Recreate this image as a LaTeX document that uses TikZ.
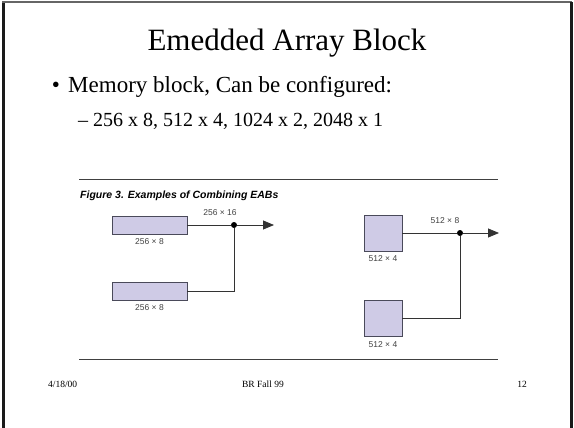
\documentclass[tikz,border=0pt]{standalone}
\usepackage{fontspec}
\setmainfont{Liberation Serif}
\setsansfont{Liberation Sans}
\usepackage{xcolor}
\usepackage{tikz}
\usetikzlibrary{positioning,arrows.meta}
\definecolor{framegray}{HTML}{1A1A1A}
\definecolor{eabfill}{HTML}{CFCBE6}
\definecolor{eabdraw}{HTML}{4A4A5A}
\definecolor{wiregray}{HTML}{333333}

\begin{document}
\begin{tikzpicture}[
x=1pt,
y=-1pt,
node distance=3pt,
txt/.style={inner sep=0pt},
eab/.style={
draw=eabdraw,
fill=eabfill,
line width=0.8pt,
inner sep=0pt
},
widebox/.style={eab, minimum width=75pt, minimum height=18pt},
squarebox/.style={eab, minimum width=38pt, minimum height=36pt},
lbl/.style={
font=\sffamily\fontsize{8.5}{9}\selectfont,
text=black!75,
inner sep=1pt
},
wire/.style={draw=wiregray, line width=0.8pt},
outwire/.style={wire, -{Triangle[length=11pt,width=9pt]}},
joint/.style={circle, fill=black, inner sep=0pt, minimum size=6pt},
rule/.style={draw=black!75, line width=0.9pt}
]

\useasboundingbox (0,0) rectangle (574,428);

\draw[line width=3pt, framegray] (3.5,428) -- (3.5,2);
\draw[line width=1.5pt, black!60] (2,2) -- (572,2);
\draw[line width=2.5pt, framegray] (571.5,2) -- (571.5,428);

\node[txt, anchor=base] (title) at (287,51)
{\fontsize{31}{36}\selectfont Emedded Array Block};

\node[txt, anchor=base] (bullet) at (56,93)
{\fontsize{23}{28}\selectfont •};

\node[txt, anchor=base west] (item) at (68,93)
{\fontsize{23}{28}\selectfont Memory block, Can be configured:};

\node[txt, anchor=base west] (subitem) at (78,127)
{\fontsize{20}{24}\selectfont – 256 x 8, 512 x 4, 1024 x 2, 2048 x 1};

\draw[rule] (79,179) -- (498,179);

\node[txt, anchor=base west,
font=\sffamily\bfseries\itshape\fontsize{10.5}{12}\selectfont] (caption) at (80,199)
{Figure 3. Examples of Combining EABs};

\node[widebox] (eabA) at (149.5,225) {};

\node[widebox] (eabB) at (149.5,291) {};

\node[squarebox] (eabC) at (383,233) {};

\node[squarebox] (eabD) at (383,318.5) {};

\node[lbl, below=3pt of eabA] (eabAlbl) {256 × 8};

\node[lbl, below=3pt of eabB] (eabBlbl) {256 × 8};

\node[lbl, below=3pt of eabC] (eabClbl) {512 × 4};

\node[lbl, below=3pt of eabD] (eabDlbl) {512 × 4};

\node[joint] (jA) at (234,225) {};

\node[joint] (jB) at (460,233) {};

\coordinate (endA) at (274,225);

\coordinate (endB) at (499,233);

\draw[wire] (eabA.east) -- (jA);

\draw[outwire] (jA) -- (endA);

\draw[wire] (eabB.east) -| (jA);

\draw[wire] (eabC.east) -- (jB);

\draw[outwire] (jB) -- (endB);

\draw[wire] (eabD.east) -| (jB);

\node[lbl] (busA) at (220,213) {256 × 16};

\node[lbl] (busB) at (445,221) {512 × 8};

\draw[rule] (79,359) -- (498,359);

\node[txt, anchor=base west, font=\fontsize{9.5}{11}\selectfont] (date) at (48,387) {4/18/00};

\node[txt, anchor=base, font=\fontsize{9.5}{11}\selectfont] (course) at (263,387) {BR Fall 99};

\node[txt, anchor=base east, font=\fontsize{9.5}{11}\selectfont] (page) at (527,387) {12};

\end{tikzpicture}
\end{document}
